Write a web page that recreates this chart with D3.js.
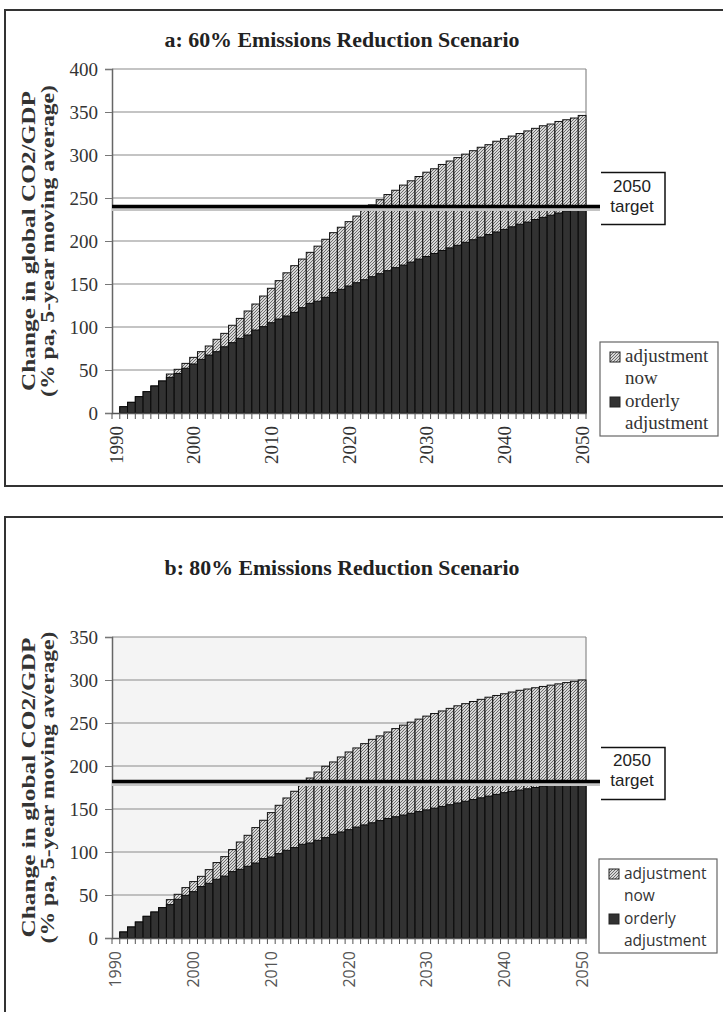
<!DOCTYPE html>
<html><head><meta charset="utf-8">
<script src="https://cdn.jsdelivr.net/npm/d3@7"></script>
<style>body{margin:0;background:#fff}svg{display:block}</style>
</head><body>
<script>
const years = d3.range(1990, 2051);
const xLabelYears = [1990, 2000, 2010, 2020, 2030, 2040, 2050];
const yTicksA = [0, 50, 100, 150, 200, 250, 300, 350, 400];
const yTicksB = [0, 50, 100, 150, 200, 250, 300, 350];
const seriesNames = ["adjustment now", "orderly adjustment"];
const targetA = 240;
const targetB = 182;

const adjNowA = [0, 7.3, 12.4, 19, 24.8, 31.4, 37.2, 45.3, 50.8, 57.7, 64.7, 71.3, 77.9, 85.7, 92.6, 102, 110, 118.6, 126.7, 136, 145, 153.9, 163, 171.3, 179, 186.8, 194, 202, 209.7, 216, 222.5, 229, 236, 242, 248, 254, 259, 265, 270, 275, 280, 284, 289, 293, 297, 301, 305, 309, 312, 316, 319, 322, 325, 328, 331, 334, 336, 339, 341, 343, 346];
const orderlyA = [0, 7.3, 12.4, 19, 24.8, 31.4, 37.2, 41.5, 46, 52, 57, 62.4, 67.4, 71.3, 77, 81.8, 86.8, 90.7, 96.5, 100.4, 105, 109.3, 112.8, 117, 122.5, 127.5, 130, 134.5, 140, 143.8, 147.7, 151.5, 155, 158.5, 162, 165.5, 169, 172, 175.5, 179, 182, 185.5, 189, 192, 195, 198.5, 201.5, 204.5, 207.5, 210.5, 213.5, 216.5, 219.5, 222, 225, 227.5, 230, 232.5, 235, 237.5, 240];
const adjNowB = [0, 7, 12.8, 18.6, 25.2, 30.2, 35.3, 44.6, 50.8, 58.6, 65.6, 71.7, 79.5, 87.7, 94.6, 102.8, 111.6, 119.4, 128.4, 136.9, 145.8, 154.3, 162.8, 170.6, 178.7, 186, 193, 199.7, 204.7, 210.5, 216.3, 221, 226, 231, 235, 239.5, 243.5, 247.5, 251, 254.5, 258, 261, 264, 267, 270, 272.5, 275, 277.5, 280, 282, 284, 286, 288, 289.5, 291, 292.5, 294, 295.5, 297, 298.5, 300];
const orderlyB = [0, 7, 12.8, 18.6, 25.2, 30.2, 35.3, 38.8, 45, 49.6, 53.9, 59.8, 63.6, 68.3, 72, 77.2, 79.9, 83.4, 87.2, 92.3, 94.2, 98.1, 102, 105.1, 109, 110.5, 113.6, 116.7, 120.6, 123.3, 126, 129, 131.5, 134, 136.5, 139, 141, 143, 145, 147, 149, 151, 153, 155, 157, 159, 161, 163, 165, 167, 169, 170.5, 172, 173.5, 175, 176.5, 178, 179, 180, 181, 182];

const W = 723, H = 1012;
const svg = d3.select("body").append("svg").attr("width", W).attr("height", H);
const defs = svg.append("defs");
const pat = defs.append("pattern").attr("id", "hatch").attr("patternUnits", "userSpaceOnUse")
  .attr("width", 3).attr("height", 3);
pat.append("rect").attr("width", 3).attr("height", 3).attr("fill", "#d8d8d8");
pat.append("path").attr("d", "M-1,1 l2,-2 M0,3 l3,-3 M2,4 l2,-2").attr("stroke", "#505050").attr("stroke-width", 0.8);

const SERIF = "'Liberation Serif', 'DejaVu Serif', serif";
const SANS = "'Liberation Sans', Arial, sans-serif";
const OPEN = "'Open Sans', 'Liberation Sans', sans-serif";

function panel(cfg) {
  const g = svg.append("g");
  g.append("rect").attr("x", 5).attr("y", cfg.frameTop).attr("width", 740).attr("height", cfg.frameH)
    .attr("fill", "none").attr("stroke", "#333").attr("stroke-width", 2);
  g.append("text").attr("x", 342).attr("y", cfg.titleY).attr("text-anchor", "middle")
    .attr("font-family", SERIF).attr("font-weight", "bold").attr("font-size", 21)
    .attr("textLength", 355).attr("lengthAdjust", "spacingAndGlyphs")
    .attr("fill", "#222").text(cfg.title);

  const x = d3.scaleBand().domain(cfg.years).range([112, 586]).padding(0);
  const y = d3.scaleLinear().domain([0, cfg.yMax]).range([cfg.y0, cfg.yTop]);

  if (cfg.bg) g.append("rect").attr("x", 112).attr("y", cfg.yTop).attr("width", 474)
    .attr("height", cfg.y0 - cfg.yTop).attr("fill", cfg.bg);

  g.append("g").selectAll("line").data(cfg.yTicks.filter(d => d > 0)).join("line")
    .attr("x1", 112).attr("x2", 586).attr("y1", d => y(d)).attr("y2", d => y(d))
    .attr("stroke", "#8a8a8a").attr("stroke-width", 1.2);
  g.append("line").attr("x1", 586).attr("x2", 586).attr("y1", cfg.yTop).attr("y2", cfg.y0)
    .attr("stroke", "#8a8a8a").attr("stroke-width", 1.2);

  const data = cfg.years.map((yr, i) => ({yr, hi: cfg.adj[i], lo: cfg.ord[i]}));
  g.append("g").selectAll("rect").data(data.filter(d => d.hi > 0)).join("rect")
    .attr("x", d => x(d.yr)).attr("width", x.bandwidth())
    .attr("y", d => y(d.hi)).attr("height", d => y(0) - y(d.hi))
    .attr("fill", "url(#hatch)").attr("stroke", "#111").attr("stroke-width", 1);
  g.append("g").selectAll("rect").data(data.filter(d => d.lo > 0)).join("rect")
    .attr("x", d => x(d.yr)).attr("width", x.bandwidth())
    .attr("y", d => y(d.lo)).attr("height", d => y(0) - y(d.lo))
    .attr("fill", "#323232").attr("stroke", "#0a0a0a").attr("stroke-width", 1);

  const ya = g.append("g").attr("transform", "translate(112,0)")
    .call(d3.axisLeft(y).tickValues(cfg.yTicks).tickSize(7).tickPadding(7).tickFormat(d3.format("d")));
  ya.select(".domain").attr("stroke", "#666").attr("stroke-width", 1.5);
  ya.selectAll(".tick line").attr("stroke", "#777");
  ya.selectAll("text").attr("font-family", SERIF).attr("font-size", 19).attr("fill", "#333");

  const xa = g.append("g").attr("transform", `translate(0,${cfg.y0})`)
    .call(d3.axisBottom(x).tickValues(cfg.xLabels).tickSize(0).tickPadding(0));
  xa.select(".domain").attr("stroke", "#555").attr("stroke-width", 1.5);
  xa.selectAll("text").attr("transform", "rotate(-90)").attr("text-anchor", "end")
    .attr("x", -13).attr("y", 0).attr("dy", "0.35em")
    .attr("font-family", cfg.xFont).attr("font-size", cfg.xFontSize).attr("fill", cfg.xColor);
  g.append("g").selectAll("line").data(cfg.years.concat([null])).join("line")
    .attr("x1", d => d === null ? 586 : x(d)).attr("x2", d => d === null ? 586 : x(d))
    .attr("y1", cfg.y0).attr("y2", cfg.y0 + 6).attr("stroke", "#555").attr("stroke-width", 1);

  const cy = (cfg.y0 + cfg.yTop) / 2;
  [["Change in global CO2/GDP", 35, 300], ["(% pa, 5-year moving average)", 54, 312]].forEach(([t, xx, len]) => {
    g.append("text").attr("transform", `translate(${xx},${cy}) rotate(-90)`)
      .attr("text-anchor", "middle").attr("font-family", SERIF).attr("font-weight", "bold")
      .attr("font-size", 19).attr("textLength", len).attr("lengthAdjust", "spacingAndGlyphs")
      .attr("fill", "#333").text(t);
  });

  const ty = y(cfg.target);
  g.append("line").attr("x1", 112).attr("x2", 600).attr("y1", ty + 3).attr("y2", ty + 3)
    .attr("stroke", "#c4c4c4").attr("stroke-width", 3);
  g.append("line").attr("x1", 112).attr("x2", 600).attr("y1", ty).attr("y2", ty)
    .attr("stroke", "#000").attr("stroke-width", 3.5);
  g.append("path").attr("d", `M601,${ty - 34}H665V${ty + 18}H601`).attr("fill", "none")
    .attr("stroke", "#111").attr("stroke-width", 1.5);
  g.append("text").attr("x", 632).attr("y", ty - 15).attr("text-anchor", "middle")
    .attr("font-family", SANS).attr("font-size", 17).attr("fill", "#222").text("2050");
  g.append("text").attr("x", 632).attr("y", ty + 5).attr("text-anchor", "middle")
    .attr("font-family", SANS).attr("font-size", 17).attr("fill", "#222").text("target");

  const L = cfg.legend;
  g.append("rect").attr("x", L.x).attr("y", L.y).attr("width", 118).attr("height", 94)
    .attr("fill", "#fff").attr("stroke", "#666").attr("stroke-width", 1.2);
  const lines = seriesNames.map(s => s.split(" "));
  [0, 1].forEach(i => {
    const by = L.y + 20 + i * 45;
    g.append("rect").attr("x", L.x + 10).attr("y", by - 10).attr("width", 10).attr("height", 10)
      .attr("fill", i === 0 ? "url(#hatch)" : "#323232").attr("stroke", "#222");
    g.append("text").attr("x", L.x + 25).attr("y", by).attr("font-family", L.font)
      .attr("font-size", L.fs).attr("fill", "#333").text(lines[i][0]);
    g.append("text").attr("x", L.x + 25).attr("y", by + 22).attr("font-family", L.font)
      .attr("font-size", L.fs).attr("fill", "#333").text(lines[i][1]);
  });
}

panel({frameTop: 10, frameH: 476, title: "a: 60% Emissions Reduction Scenario", titleY: 47,
  years, xLabels: xLabelYears, yTicks: yTicksA, yMax: 400, y0: 413, yTop: 69,
  adj: adjNowA, ord: orderlyA, target: targetA, xFont: SERIF, xFontSize: 19, xColor: "#333",
  legend: {x: 600, y: 342, font: SERIF, fs: 19}});
panel({frameTop: 517, frameH: 520, title: "b: 80% Emissions Reduction Scenario", titleY: 575,
  years, xLabels: xLabelYears, yTicks: yTicksB, yMax: 350, y0: 938, yTop: 637, bg: "#f4f4f4",
  adj: adjNowB, ord: orderlyB, target: targetB, xFont: OPEN, xFontSize: 16, xColor: "#555",
  legend: {x: 599, y: 859, font: OPEN, fs: 15.5}});
</script>
</body></html>
